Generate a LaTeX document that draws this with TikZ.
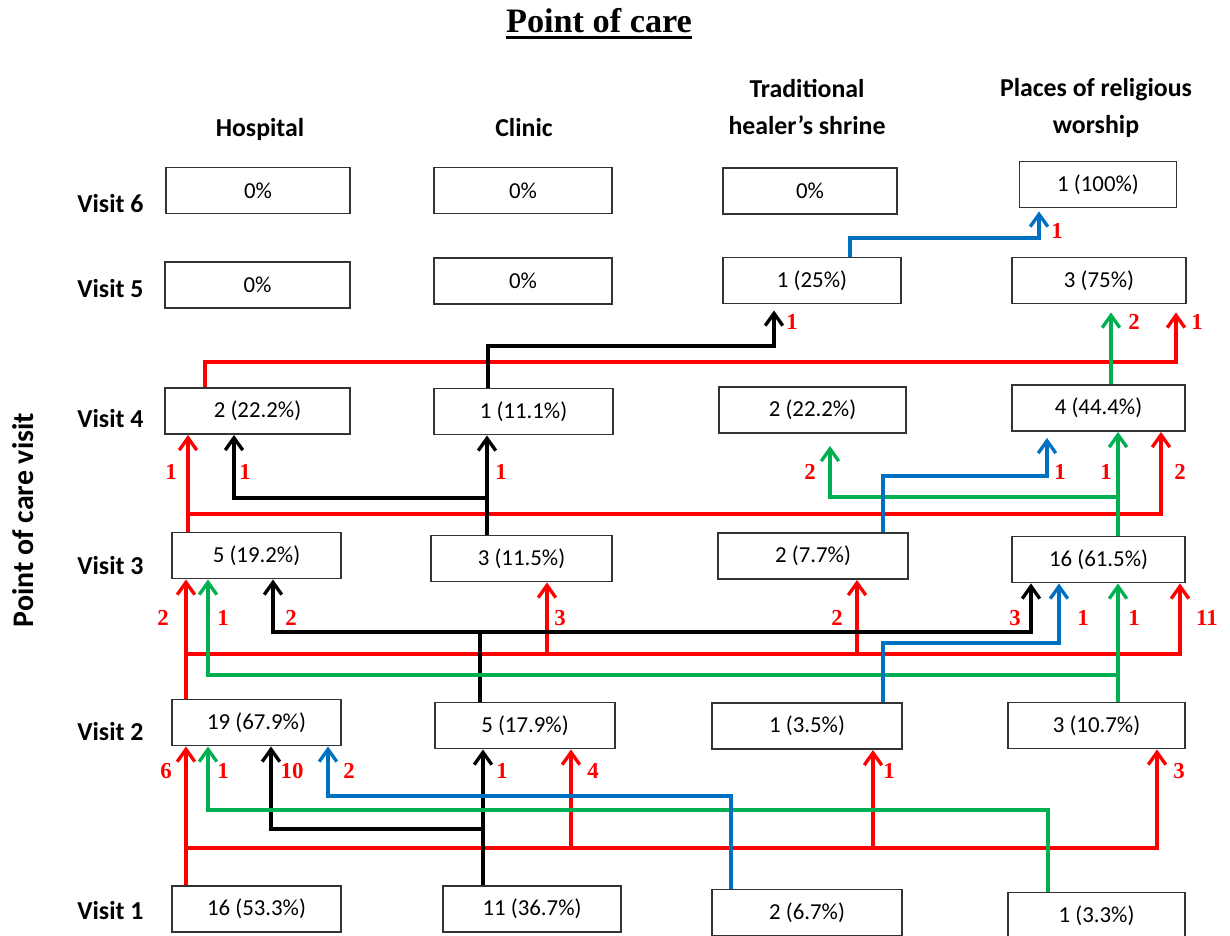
\documentclass[tikz,border=0pt]{standalone}
\usepackage{fontspec}
\newfontfamily\calibri{Carlito}
\newfontfamily\serifnum{Liberation Serif}
\usetikzlibrary{arrows.meta}
\definecolor{flowred}{RGB}{255,0,0}
\definecolor{flowblue}{RGB}{0,112,192}
\definecolor{flowgreen}{RGB}{0,176,80}

\begin{document}
\begin{tikzpicture}[x=0.02cm,y=-0.02cm,
		box/.style={draw=black!80,line width=1.1pt,minimum height=46*0.02cm,inner sep=0pt,font=\calibri\fontsize{13}{15}\selectfont},
		boxw/.style={minimum width=#1*0.02cm},
		head/.style={font=\calibri\bfseries\fontsize{14.7}{21}\selectfont,align=center,inner sep=0pt},
		num/.style={text=flowred,font=\serifnum\bfseries\fontsize{13}{15}\selectfont,inner sep=0pt},
		flow/.style={line width=1.9pt,-{Straight Barb[length=7pt,width=10pt]}},
		rflow/.style={flow,draw=flowred},
		kflow/.style={flow,draw=black},
		gflow/.style={flow,draw=flowgreen},
		bflow/.style={flow,draw=flowblue}]
	\useasboundingbox (0,0) rectangle (1230,936);

	\node(title) at (599,33)[anchor=base,inner sep=0pt,font=\serifnum\bfseries\fontsize{19.5}{22}\selectfont]{Point of care};
	\draw[line width=1.6pt] ([yshift=-2.6pt]title.base west) -- ([yshift=-2.6pt]title.base east);

	\node(hosp) at (260,136)[head,anchor=base]{Hospital};
	\node(clin) at (524,136)[head,anchor=base]{Clinic};
	\node(trad) at (807,134)[head,anchor=base]{Traditional\\healer’s shrine};
	\node(relig) at (1096,133)[head,anchor=base]{Places of religious\\worship};

	\node(yaxis) at (33,520)[rotate=90,anchor=base,inner sep=0pt,font=\calibri\bfseries\fontsize{17}{20}\selectfont]{Point of care visit};
	\node(v6) at (77,212)[head,anchor=base west]{Visit 6};
	\node(v5) at (77,297)[head,anchor=base west]{Visit 5};
	\node(v4) at (77,427)[head,anchor=base west]{Visit 4};
	\node(v3) at (77,574)[head,anchor=base west]{Visit 3};
	\node(v2) at (77,740)[head,anchor=base west]{Visit 2};
	\node(v1) at (77,919)[head,anchor=base west]{Visit 1};

	\node(h6) at (258,190.5)[box,boxw=184]{0\%};
	\node(c6) at (523,190.5)[box,boxw=178]{0\%};
	\node(t6) at (810,191)[box,boxw=174]{0\%};
	\node(p6) at (1098,184.5)[box,boxw=157]{1 (100\%)};
	\node(h5) at (257.5,285)[box,boxw=185]{0\%};
	\node(c5) at (523,281)[box,boxw=178]{0\%};
	\node(t5) at (812,280.5)[box,boxw=178]{1 (25\%)};
	\node(p5) at (1099,280.5)[box,boxw=174]{3 (75\%)};
	\node(h4) at (257.5,411)[box,boxw=185]{2 (22.2\%)};
	\node(c4) at (523.5,411.5)[box,boxw=179]{1 (11.1\%)};
	\node(t4) at (812.5,410)[box,boxw=187]{2 (22.2\%)};
	\node(p4) at (1098.5,408)[box,boxw=173]{4 (44.4\%)};
	\node(h3) at (256.5,555.5)[box,boxw=169]{5 (19.2\%)};
	\node(c3) at (521.5,558.5)[box,boxw=181]{3 (11.5\%)};
	\node(t3) at (813,556)[box,boxw=190]{2 (7.7\%)};
	\node(p3) at (1098.5,559.5)[box,boxw=173]{16 (61.5\%)};
	\node(h2) at (256.5,722.5)[box,boxw=169]{19 (67.9\%)};
	\node(c2) at (525,725.5)[box,boxw=180]{5 (17.9\%)};
	\node(t2) at (807,726)[box,boxw=190]{1 (3.5\%)};
	\node(p2) at (1096.5,725.5)[box,boxw=177]{3 (10.7\%)};
	\node(h1) at (256.5,909)[box,boxw=169]{16 (53.3\%)};
	\node(c1) at (532,909)[box,boxw=178]{11 (36.7\%)};
	\node(t1) at (807,912.5)[box,boxw=190]{2 (6.7\%)};
	\node(p1) at (1096.5,915.5)[box,boxw=177]{1 (3.3\%)};

	\draw[rflow] (186,0 |- h1.north) -- (186,0 |- h2.south);
	\foreach \x/\tgt in {571/c2,873/t2,1157/p2}
		\draw[rflow] (186,0 |- h1.north) |- (\x,848) -- (\x,0 |- \tgt.south);
	\draw[kflow] (483,0 |- c1.north) -- (483,0 |- c2.south);
	\draw[kflow] (483,0 |- c1.north) |- (271,829) -- (271,0 |- h2.south);
	\draw[gflow] (1048,0 |- p1.north) |- (208,810) -- (208,0 |- h2.south);
	\draw[bflow] (731,0 |- t1.north) |- (328,796) -- (328,0 |- h2.south);

	\draw[rflow] (186,0 |- h2.north) -- (186,0 |- h3.south);
	\foreach \x/\tgt in {547/c3,857/t3,1180/p3}
		\draw[rflow] (186,0 |- h2.north) |- (\x,654) -- (\x,0 |- \tgt.south);
	\draw[kflow] (480,0 |- c2.north) |- (273,632) -- (273,0 |- h3.south);
	\draw[kflow] (480,0 |- c2.north) |- (1031,632) -- (1031,0 |- p3.south);
	\draw[gflow] (1118,0 |- p2.north) -- (1118,0 |- p3.south);
	\draw[gflow] (1118,0 |- p2.north) |- (208,675) -- (208,0 |- h3.south);
	\draw[bflow] (883,0 |- t2.north) |- (1059,643) -- (1059,0 |- p3.south);

	\draw[rflow] (188,0 |- h3.north) -- (188,0 |- h4.south);
	\draw[rflow] (188,0 |- h3.north) |- (1161,514) -- (1161,0 |- p4.south);
	\draw[kflow] (487,0 |- c3.north) -- (487,0 |- c4.south);
	\draw[kflow] (487,0 |- c3.north) |- (234,498) -- (234,0 |- h4.south);
	\draw[gflow] (1118,0 |- p3.north) -- (1118,0 |- p4.south);
	\draw[gflow,shorten >=12*0.02cm] (1118,0 |- p3.north) |- (830,497) -- (830,0 |- t4.south);
	\draw[bflow,shorten >=6*0.02cm] (883,0 |- t3.north) |- (1047,476) -- (1047,0 |- p4.south);

	\draw[rflow,shorten >=8*0.02cm] (205,0 |- h4.north) |- (1176,362) -- (1176,0 |- p5.south);
	\draw[kflow,shorten >=6*0.02cm] (488,0 |- c4.north) |- (774,346) -- (774,0 |- t5.south);
	\draw[gflow,shorten >=8*0.02cm] (1111,0 |- p4.north) -- (1111,0 |- p5.south);

	\draw[bflow,shorten >=3*0.02cm] (850,0 |- t5.north) |- (1039,238) -- (1039,0 |- p6.south);

	\foreach \x/\y/\n [count=\i] in {166/771/6,223/771/1,292/771/10,349/771/2,502/771/1,593/771/4,889/771/1,1179/771/3,
			163/618/2,223/618/1,291/618/2,560/618/3,837/618/2,1015/618/3,1083/618/1,1134/618/1,1207/618/11,
			171/472/1,245/472/1,501/472/1,810/472/2,1060/472/1,1106/472/1,1180/472/2,
			792/322/1,1134/322/2,1197/322/1,1057/231/1}
		\node(n\i) at (\x,\y)[num]{\n};
\end{tikzpicture}
\end{document}
